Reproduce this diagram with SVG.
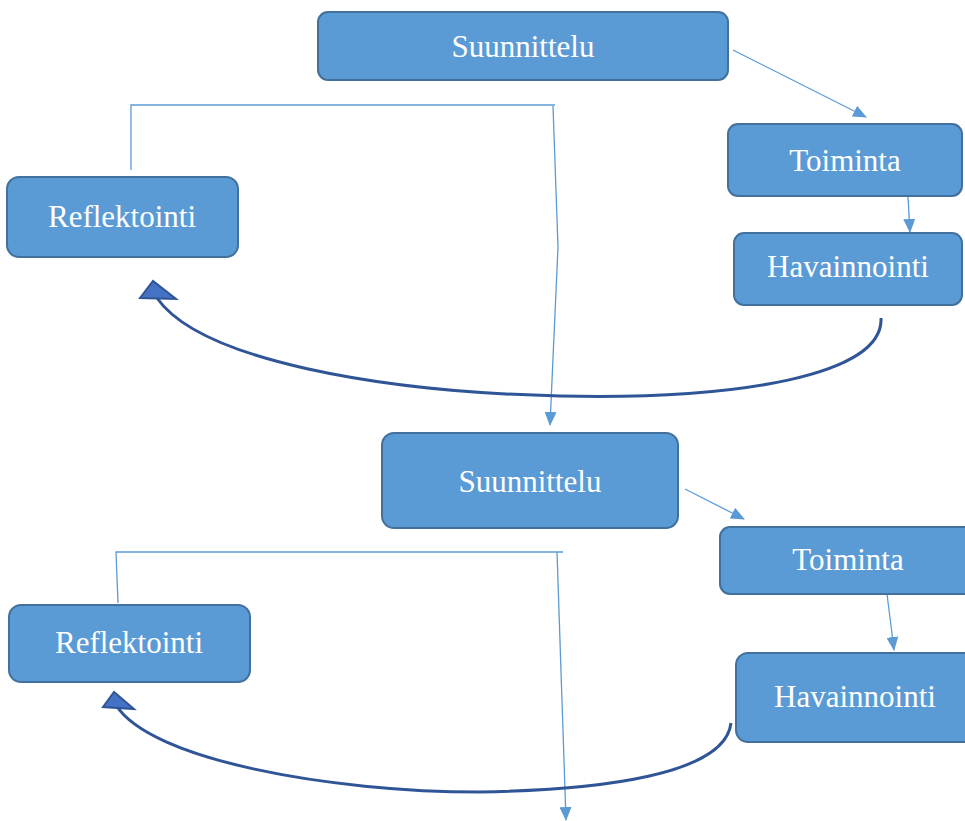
<svg xmlns="http://www.w3.org/2000/svg" width="965" height="821" viewBox="0 0 965 821">
<style>
.box{fill:#5B9BD5;stroke:#41719C;stroke-width:2}
.lbl{font-family:"Liberation Serif","Times New Roman",serif;font-size:31px;fill:#FFFFFF;text-anchor:middle}
.thin{fill:none;stroke:#5B9BD5;stroke-width:1.3}
.curve{fill:none;stroke:#2F5597;stroke-width:3}
.head{fill:#4472C4;stroke:#2F5597;stroke-width:2;stroke-linejoin:miter}
</style>
<defs>
<marker id="ah" markerWidth="14" markerHeight="12" refX="13" refY="6" orient="auto" markerUnits="userSpaceOnUse">
<path d="M0,0 L14,6 L0,12 z" fill="#5B9BD5"/>
</marker>
</defs>
<rect width="965" height="821" fill="#FFFFFF"/>
<g id="connectors">
<path class="thin" marker-end="url(#ah)" d="M733,50 L866,117"/>
<path class="thin" marker-end="url(#ah)" d="M908,197 L910,232"/>
<path class="thin" d="M131,170 L131,105 L555,105"/>
<path class="thin" marker-end="url(#ah)" d="M553,106 L558,247 L550,425"/>
<path class="curve" d="M881,318 C884,375 740,400 560,396 C380,392 200,360 157,298"/>
<polygon class="head" points="140,298 153,281 176,299"/>
<path class="thin" marker-end="url(#ah)" d="M685,489 L744,519"/>
<path class="thin" marker-end="url(#ah)" d="M887,594 L894,650"/>
<path class="thin" d="M118,603 L116,552 L563,552"/>
<path class="thin" marker-end="url(#ah)" d="M557,552 L566,820"/>
<path class="curve" d="M731,723 C725,775 600,790 480,792 C330,792 150,760 116,705"/>
<polygon class="head" points="103,707 114,692 134,709"/>
</g>
<g id="suunnittelu1"><rect class="box" x="318" y="12" width="410" height="68" rx="10"/><text class="lbl" x="523" y="57">Suunnittelu</text></g>
<g id="toiminta1"><rect class="box" x="728" y="124" width="234" height="72" rx="10"/><text class="lbl" x="845" y="171">Toiminta</text></g>
<g id="havainnointi1"><rect class="box" x="734" y="233" width="228" height="72" rx="10"/><text class="lbl" x="848" y="277">Havainnointi</text></g>
<g id="reflektointi1"><rect class="box" x="7" y="177" width="231" height="80" rx="12"/><text class="lbl" x="122" y="227">Reflektointi</text></g>
<g id="suunnittelu2"><rect class="box" x="382" y="433" width="296" height="95" rx="12"/><text class="lbl" x="530" y="492">Suunnittelu</text></g>
<g id="toiminta2"><rect class="box" x="720" y="527" width="260" height="67" rx="10"/><text class="lbl" x="848" y="570">Toiminta</text></g>
<g id="havainnointi2"><rect class="box" x="736" y="653" width="244" height="89" rx="12"/><text class="lbl" x="855" y="707">Havainnointi</text></g>
<g id="reflektointi2"><rect class="box" x="9" y="605" width="241" height="77" rx="12"/><text class="lbl" x="129" y="653">Reflektointi</text></g>
</svg>
